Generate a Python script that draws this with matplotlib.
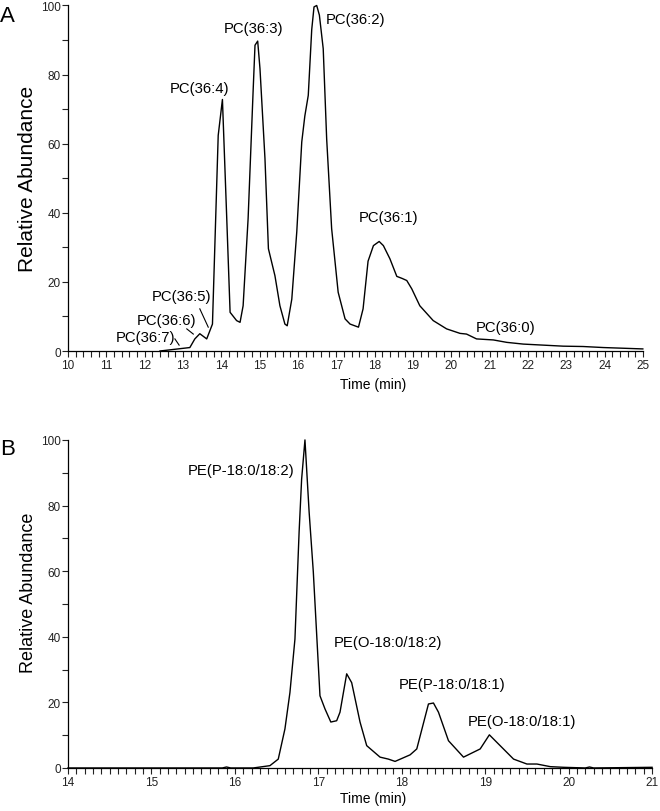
import matplotlib
matplotlib.use("Agg")
import matplotlib.pyplot as plt
from matplotlib.ticker import MultipleLocator

plt.rcParams['font.family'] = ['Liberation Sans', 'DejaVu Sans']

# panel A: PC(36:x) extracted ion chromatogram
a_time = [12.40, 13.18, 13.31, 13.44, 13.62, 13.77, 13.92, 14.03, 14.14, 14.23,
          14.40, 14.49, 14.57, 14.70, 14.83, 14.88, 14.95, 15.01, 15.14, 15.23,
          15.40, 15.53, 15.66, 15.72, 15.84, 15.97, 16.10, 16.18, 16.27, 16.36,
          16.42, 16.49, 16.56, 16.66, 16.75, 16.88, 17.05, 17.23, 17.36, 17.58,
          17.70, 17.83, 17.97, 18.12, 18.23, 18.40, 18.58, 18.72, 18.84, 18.97,
          19.18, 19.53, 19.88, 20.23, 20.40, 20.66, 21.10, 21.45, 21.88, 22.40,
          22.92, 23.44, 23.97, 24.49, 25.00]
a_abund = [0.0, 1.0, 3.5, 5.0, 3.5, 7.8, 62.4, 72.8, 39.2, 11.2,
           8.8, 8.3, 13.1, 38.3, 75.0, 88.5, 89.7, 81.7, 55.7, 29.6,
           21.8, 13.1, 7.8, 7.3, 15.0, 34.5, 60.5, 68.0, 74.0, 93.0,
           99.6, 100.0, 97.2, 87.5, 61.4, 35.4, 17.0, 9.3, 7.8, 6.9,
           12.2, 26.0, 30.5, 31.7, 30.5, 26.7, 21.6, 21.0, 20.4, 18.0,
           13.1, 8.8, 6.4, 5.1, 4.9, 3.5, 3.2, 2.5, 2.0, 1.7,
           1.4, 1.3, 1.0, 0.8, 0.6]

a_labels = ["PC(36:7)", "PC(36:6)", "PC(36:5)", "PC(36:4)", "PC(36:3)",
            "PC(36:2)", "PC(36:1)", "PC(36:0)"]
a_label_x = [12.03, 12.58, 12.95, 13.42, 14.85, 17.49, 18.37, 21.43]
a_label_y = [4.1, 9.0, 16.0, 76.2, 93.6, 96.2, 38.8, 7.0]
# leader lines for the small early peaks
a_lead_x = [(12.79, 12.90), (13.10, 13.27), (13.44, 13.66)]
a_lead_y = [(3.5, 1.7), (6.4, 4.9), (12.2, 6.9)]

# panel B: PE plasmalogen / ether species
b_time = [14.00, 15.85, 15.90, 15.95, 16.22, 16.42, 16.52, 16.60, 16.66, 16.72,
          16.77, 16.80, 16.84, 16.89, 16.94, 17.02, 17.08, 17.15, 17.22, 17.26,
          17.34, 17.40, 17.50, 17.58, 17.74, 17.84, 17.92, 18.10, 18.18, 18.32,
          18.38, 18.44, 18.56, 18.74, 18.94, 19.05, 19.14, 19.34, 19.50, 19.62,
          19.78, 19.94, 20.20, 20.25, 20.30, 21.00]
b_abund = [0.0, 0.0, 0.3, 0.0, 0.0, 0.7, 2.7, 11.9, 23.0, 39.3,
           72.0, 88.0, 100.0, 78.0, 59.8, 22.0, 18.0, 14.0, 14.4, 17.0,
           28.7, 26.0, 14.0, 6.8, 3.3, 2.7, 2.0, 4.0, 5.8, 19.5,
           19.8, 17.0, 8.3, 3.3, 5.8, 10.1, 7.8, 2.7, 1.2, 1.2,
           0.4, 0.2, 0.0, 0.3, 0.0, 0.2]

b_labels = ["PE(P-18:0/18:2)", "PE(O-18:0/18:2)", "PE(P-18:0/18:1)", "PE(O-18:0/18:1)"]
b_label_x = [16.08, 17.83, 18.60, 19.44]
b_label_y = [90.9, 38.3, 25.6, 14.4]


def style_axis(ax, xmin, xmax, minor, ylab_size, xlab_x, xlab_y, ylab_x, ylab_y):
    ax.set_xlim(xmin, xmax)
    ax.set_ylim(0, 100)
    ax.spines['top'].set_visible(False)
    ax.spines['right'].set_visible(False)
    for s in ('left', 'bottom'):
        ax.spines[s].set_linewidth(0.9)
    ax.xaxis.set_major_locator(MultipleLocator(1))
    ax.xaxis.set_minor_locator(MultipleLocator(minor))
    ax.yaxis.set_major_locator(MultipleLocator(20))
    ax.yaxis.set_minor_locator(MultipleLocator(10))
    ax.tick_params(which='both', direction='out', length=4, width=0.8,
                   labelsize=8.5, color='#222222', labelcolor='#222222')
    ax.tick_params(axis='y', pad=1)
    ax.tick_params(axis='x', pad=2)
    ax.set_xlabel("Time (min)", fontsize=10)
    ax.xaxis.set_label_coords(xlab_x, xlab_y)
    ax.set_ylabel("Relative Abundance", fontsize=ylab_size)
    ax.yaxis.set_label_coords(ylab_x, ylab_y)


fig = plt.figure(figsize=(6.6, 8.12), dpi=100)

axA = fig.add_axes([0.103, 0.5665, 0.871, 0.4255])
axA.plot(a_time, a_abund, color='black', lw=1.0, clip_on=False)
for lx, ly in zip(a_lead_x, a_lead_y):
    axA.plot(lx, ly, color='black', lw=0.8)
for t, x, y in zip(a_labels, a_label_x, a_label_y):
    axA.text(x, y, t, ha='center', va='center', fontsize=10.7)
style_axis(axA, 10, 25, 0.2, 15, 0.530, -0.075, -0.054, 0.5)
fig.text(0.0, 0.973, "A", fontsize=16, ha='left', va='baseline')

axB = fig.add_axes([0.103, 0.053, 0.885, 0.404])
axB.plot(b_time, b_abund, color='black', lw=1.0, clip_on=False)
for t, x, y in zip(b_labels, b_label_x, b_label_y):
    axB.text(x, y, t, ha='center', va='center', fontsize=10.7)
style_axis(axB, 14, 21, 0.1, 13, 0.522, -0.070, -0.053, 0.537)
fig.text(0.0, 0.4397, "B", fontsize=16, ha='left', va='baseline')

fig.savefig("out.png", dpi=100)
